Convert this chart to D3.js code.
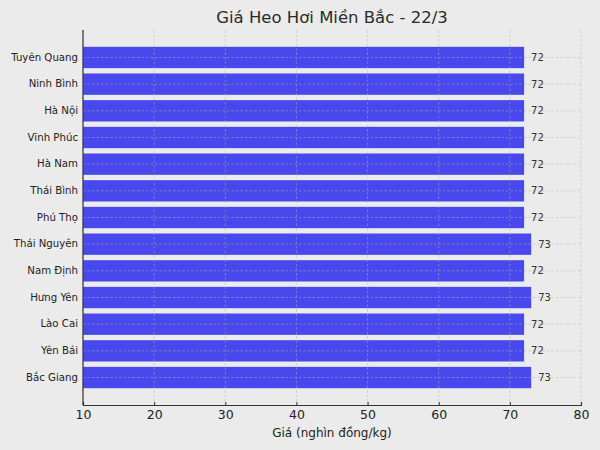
<!DOCTYPE html>
<html><head><meta charset="utf-8">
<script src="https://cdn.jsdelivr.net/npm/d3@7"></script>
<style>html,body{margin:0;padding:0;background:#ebebeb;}</style>
</head><body>
<svg id="c" width="600" height="450"></svg>
<script>
const provinces = ["Tuyên Quang","Ninh Bình","Hà Nội","Vĩnh Phúc","Hà Nam","Thái Bình","Phú Thọ","Thái Nguyên","Nam Định","Hưng Yên","Lào Cai","Yên Bái","Bắc Giang"];
const prices = [72,72,72,72,72,72,72,73,72,73,72,72,73];
const xTicks = [10,20,30,40,50,60,70,80];
const title = "Giá Heo Hơi Miền Bắc - 22/3";
const xLabel = "Giá (nghìn đồng/kg)";

const svg = d3.select("#c");
const font = "DejaVu Sans, sans-serif";
const L = 83, R = 581, T = 30, B = 405;
svg.append("rect").attr("width",600).attr("height",450).attr("fill","#ebebeb");

const x = d3.scaleLinear().domain([10,80]).range([L,R]);
const y = d3.scaleBand().domain(provinces).range([T,B]).paddingInner(0.2).paddingOuter(0.63);

// bars
svg.append("g").selectAll("rect").data(provinces).join("rect")
  .attr("x", x(10)).attr("y", d=>y(d))
  .attr("width", (d,i)=>x(prices[i])-x(10)).attr("height", y.bandwidth())
  .attr("fill","#4848ec");

// grid
const grid = svg.append("g").attr("stroke","#b4b4b4").attr("stroke-width",0.8)
  .attr("stroke-dasharray","2.5,2").attr("opacity",0.6);
grid.selectAll("line.v").data(xTicks).join("line").attr("class","v")
  .attr("x1",d=>x(d)).attr("x2",d=>x(d)).attr("y1",T).attr("y2",B);
grid.selectAll("line.h").data(provinces).join("line").attr("class","h")
  .attr("x1",L).attr("x2",R).attr("y1",d=>y(d)+y.bandwidth()/2).attr("y2",d=>y(d)+y.bandwidth()/2);

// value labels
svg.append("g").selectAll("text").data(provinces).join("text")
  .attr("x",(d,i)=>x(prices[i])+7).attr("y",d=>y(d)+y.bandwidth()/2)
  .attr("dy","0.35em").attr("font-family",font).attr("font-size",10).attr("fill","#333")
  .text((d,i)=>prices[i]);

// axes
const xAxis = svg.append("g").attr("transform",`translate(0,${B})`)
  .call(d3.axisBottom(x).tickValues(xTicks).tickSize(-3).tickPadding(5).tickFormat(d3.format("d")));
xAxis.select(".domain").attr("stroke","#333").attr("stroke-width",1.2);
xAxis.selectAll(".tick line").attr("stroke","#333");
xAxis.selectAll("text").attr("font-family",font).attr("font-size",12.5).attr("fill","#222");

const yAxis = svg.append("g").attr("transform",`translate(${L},0)`)
  .call(d3.axisLeft(y).tickSize(0).tickPadding(5));
yAxis.select(".domain").attr("stroke","#333").attr("stroke-width",1.2).attr("d",`M0,${T}V${B}`);
yAxis.selectAll("text").attr("font-family",font).attr("font-size",10.2).attr("fill","#222");

// title & label
svg.append("text").attr("x",(L+R)/2).attr("y",23).attr("text-anchor","middle")
  .attr("font-family",font).attr("font-size",16.5).attr("fill","#2a2a2a").text(title);
svg.append("text").attr("x",(L+R)/2).attr("y",437).attr("text-anchor","middle")
  .attr("font-family",font).attr("font-size",12).attr("fill","#222").text(xLabel);
</script>
</body></html>
